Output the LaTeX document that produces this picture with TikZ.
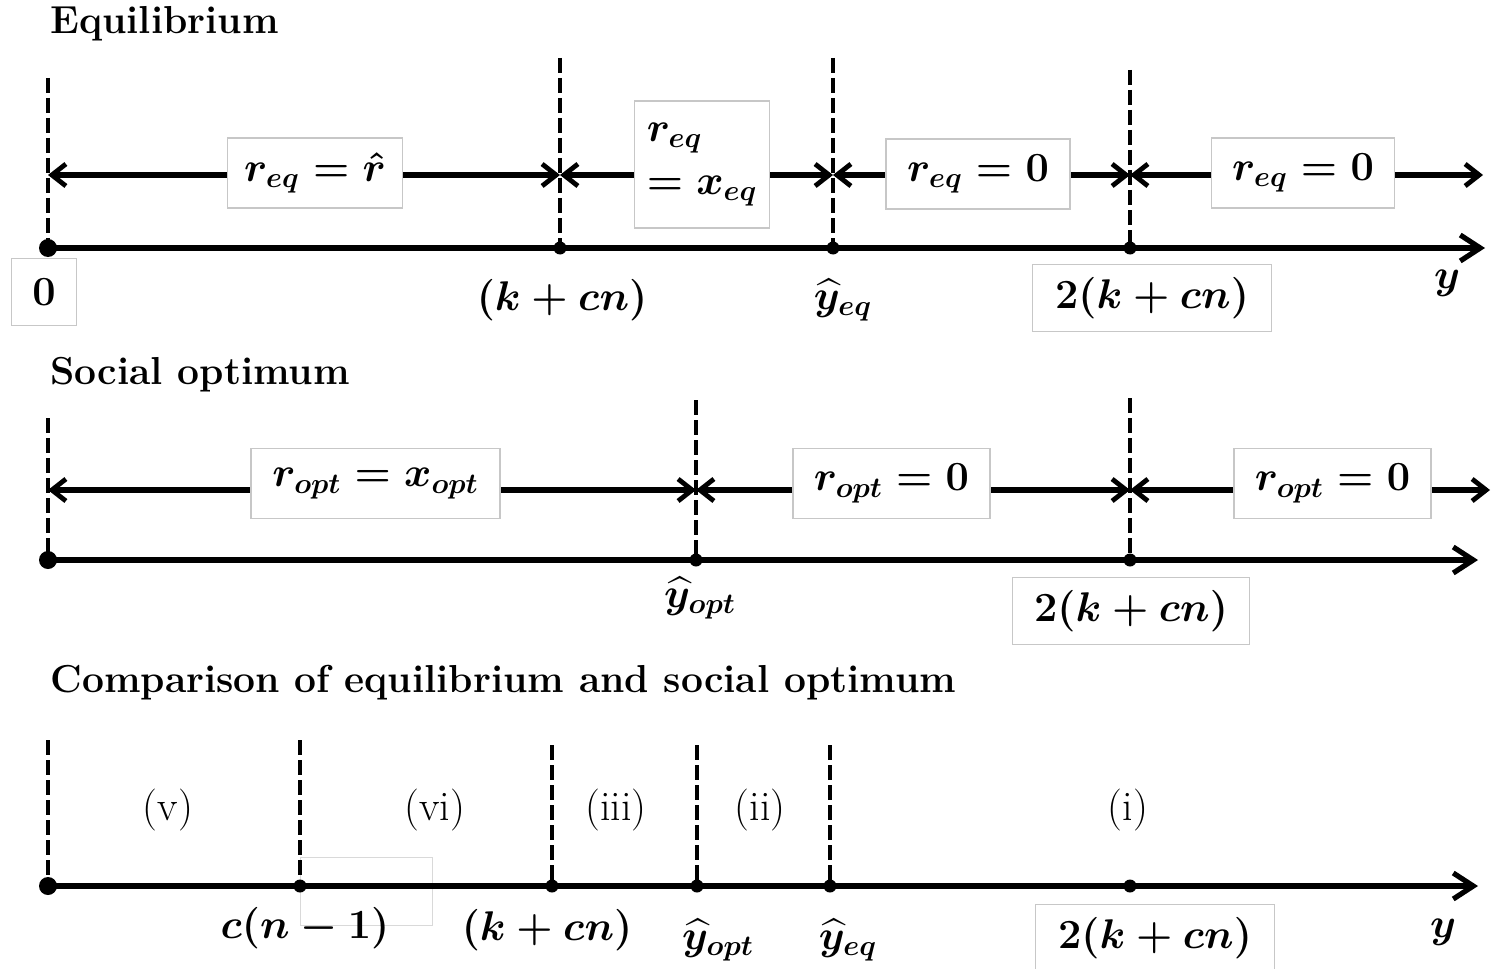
\documentclass[tikz,border=0pt]{standalone}
\usepackage{amsmath,amssymb}
\usepackage{tikz}
\usetikzlibrary{arrows.meta}
\newcommand{\mfont}{\fontsize{21}{26.5}\selectfont\boldmath}
\tikzset{
  axisarr/.style = {-{Straight Barb[length=10pt,width=13pt,line width=2.6pt]},line width=3pt},
  dimarr/.style  = {{Straight Barb[length=7pt,width=11pt,line width=2.4pt]}-{Straight Barb[length=7pt,width=11pt,line width=2.4pt]},line width=2.6pt},
  guide/.style   = {dash pattern=on 7.5pt off 2.5pt,line width=2.2pt},
  lbox/.style    = {draw=black!22,line width=0.6pt,fill=white,inner xsep=6pt,minimum height=35pt,font=\mfont},
  mlbl/.style    = {inner sep=0pt,font=\mfont},
  rlbl/.style    = {inner sep=0pt,font=\fontsize{21}{25}\selectfont},
  ttl/.style     = {anchor=west,inner sep=0pt,font=\fontsize{19.5}{23}\selectfont\bfseries},
  dot/.style     = {circle,fill,inner sep=0pt,minimum size=6.5pt},
  bigdot/.style  = {circle,fill,inner sep=0pt,minimum size=9pt}
}

\begin{document}
\begin{tikzpicture}[x=0.5pt,y=-0.5pt]
  \useasboundingbox (0,0) rectangle (1491,968);

  % Equilibrium
  \node[ttl] (teq) at (50,24) {Equilibrium};
  \foreach \n/\x/\t in {0/48/78,1/560/58,2/833/58,3/1130/70} {
    \coordinate (e\n) at (\x,248);
    \coordinate (et\n) at (\x,\t);
    \coordinate (em\n) at (\x,175);
  }
  \coordinate (eend) at (1485,248);
  \coordinate (em4) at (1483,175);
  \foreach \n in {0,...,3} \draw[guide] (et\n) -- (e\n);
  \draw[axisarr] (e0) -- (eend);
  \node[bigdot] (de0) at (e0) {};
  \foreach \n in {1,2,3} \node[dot] (de\n) at (e\n) {};
  \foreach \a/\b in {0/1,1/2,2/3,3/4} \draw[dimarr] (em\a) -- (em\b);
  \node[lbox,minimum width=87.5pt] (req1) at (315,173)   {$r_{eq}=\hat{r}$};
  \node[lbox,align=left,minimum width=66.5pt,minimum height=63.5pt] (req2) at (702,164.5) {$r_{eq}$\\$=x_{eq}$};
  \node[lbox,minimum width=92pt] (req3) at (978,174)     {$r_{eq}=0$};
  \node[lbox,minimum width=91.5pt] (req4) at (1303,173)  {$r_{eq}=0$};
  \node[lbox,minimum width=32.5pt,minimum height=33.5pt] (le0) at (44,292) {$0$};
  \node[mlbl] (le1) at (562,300) {$(k+cn)$};
  \node[mlbl] (le2) at (843,300) {$\widehat{y}_{eq}$};
  \node[lbox,minimum width=119.5pt,minimum height=33.5pt] (le3) at (1152,298) {$2(k+cn)$};
  \node[mlbl] (ley) at (1447,283) {$y$};

  % Social optimum
  \node[ttl] (topt) at (50,375) {Social optimum};
  \foreach \n/\x/\t in {0/48/418,1/696/400,2/1130/398} {
    \coordinate (s\n) at (\x,560);
    \coordinate (st\n) at (\x,\t);
    \coordinate (sm\n) at (\x,490);
  }
  \coordinate (send) at (1478,560);
  \coordinate (sm3) at (1490,490);
  \foreach \n in {0,1,2} \draw[guide] (st\n) -- (s\n);
  \draw[axisarr] (s0) -- (send);
  \node[bigdot] (ds0) at (s0) {};
  \foreach \n in {1,2} \node[dot] (ds\n) at (s\n) {};
  \foreach \a/\b in {0/1,1/2,2/3} \draw[dimarr] (sm\a) -- (sm\b);
  \node[lbox,minimum width=124.5pt] (ropt1) at (375.5,483.5) {$r_{opt}=x_{opt}$};
  \node[lbox,minimum width=98.5pt] (ropt2) at (891.5,483.5)  {$r_{opt}=0$};
  \node[lbox,minimum width=98.5pt] (ropt3) at (1332.5,483.5) {$r_{opt}=0$};
  \node[mlbl] (ls1) at (700,598) {$\widehat{y}_{opt}$};
  \node[lbox,minimum width=118.5pt,minimum height=33.5pt] (ls2) at (1131,611) {$2(k+cn)$};

  % Comparison
  \node[ttl] (tcmp) at (50,683) {Comparison of equilibrium and social optimum};
  \draw[black!15,line width=0.5pt] (300,857) rectangle (432,925);
  \foreach \n/\x/\t in {0/48/740,1/300/740,2/552/745,3/697/745,4/830/745} {
    \coordinate (c\n) at (\x,886);
    \coordinate (ct\n) at (\x,\t);
  }
  \coordinate (c5) at (1130,886);
  \coordinate (cend) at (1478,886);
  \foreach \n in {0,...,4} \draw[guide] (ct\n) -- (c\n);
  \draw[axisarr] (c0) -- (cend);
  \node[bigdot] (dc0) at (c0) {};
  \foreach \n in {1,...,5} \node[dot] (dc\n) at (c\n) {};
  \node[rlbl] (cv)   at (168,810)  {(v)};
  \node[rlbl] (cvi)  at (435,810)  {(vi)};
  \node[rlbl] (ciii) at (616,810)  {(iii)};
  \node[rlbl] (cii)  at (760,810)  {(ii)};
  \node[rlbl] (ci)   at (1128,810) {(i)};
  \node[mlbl] (lc1) at (305,928) {$c(n-1)$};
  \node[mlbl] (lc2) at (547,930) {$(k+cn)$};
  \node[mlbl] (lc3) at (718,940) {$\widehat{y}_{opt}$};
  \node[mlbl] (lc4) at (848,940) {$\widehat{y}_{eq}$};
  \node[lbox,minimum width=119.5pt,minimum height=33.5pt] (lc5) at (1155,938) {$2(k+cn)$};
  \node[mlbl] (lcy) at (1443,932) {$y$};
\end{tikzpicture}
\end{document}
